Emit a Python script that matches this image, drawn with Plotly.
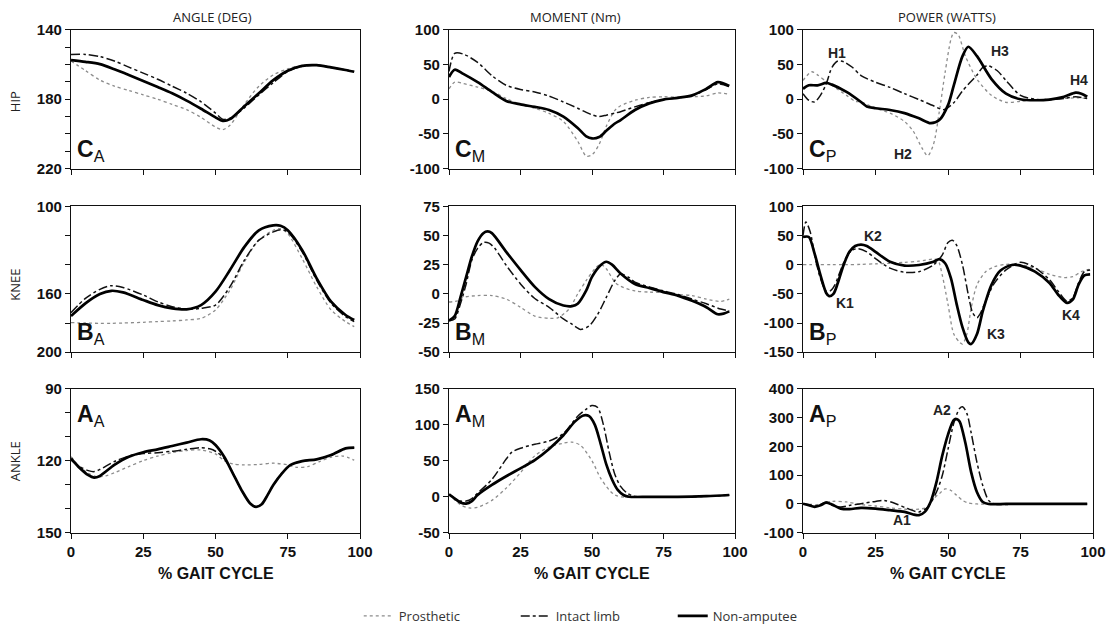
import plotly.graph_objects as go

# ---------------- DATA (% gait cycle on x) ----------------
# Hip angle (deg)
HA_X = [0, 5, 10, 15, 20, 25, 30, 35, 40, 45, 50, 52.5, 55, 60, 65, 70, 75, 80, 85, 90, 95, 98]
HA_PRO = [158, 163.5, 169, 172.5, 175, 177.5, 180, 183, 186, 190.5, 196, 197.5, 195, 183, 172.5, 166, 162.5, 160.5, 160.5, 161.7, 163, 164]
HA_INT = [154.3, 154.2, 155.5, 158, 161.5, 165, 168.5, 172.5, 176.5, 181.5, 188, 191.5, 191, 185, 177.5, 170.5, 164, 161, 160.4, 161.7, 163.2, 164.2]
HA_NON = [157.5, 158.5, 159.8, 162.7, 166, 169.5, 173, 176.6, 180.8, 185.5, 190.5, 192.5, 191.5, 184, 176.6, 169, 163.6, 160.8, 160.4, 161.7, 163.2, 164.2]

# Hip moment (Nm)
HM_X = [0, 2, 5, 10, 15, 20, 25, 30, 35, 40, 45, 48, 50, 52.5, 55, 58, 60, 65, 70, 75, 80, 85, 90, 94, 98]
HM_PRO = [15, 24.5, 22.5, 17.5, 11.5, 1, -7.5, -13, -20.5, -32, -60.5, -82, -80, -65, -39, -16, -9.5, -1.5, 2.5, 3.5, 3, 3.5, 5, 9, 7]
HM_INT = [40, 66, 65, 53, 34, 20, 14, 10.5, 4.5, -4, -13, -19, -22.5, -25, -23, -20, -18, -11, -5, -0.5, 2, 5, 14, 22, 18]
HM_NON = [32, 42.5, 36.5, 24.5, 10.5, -2.5, -7.5, -11, -15.5, -25, -41.5, -53.5, -56.5, -54.5, -45.5, -35, -30, -15.5, -6, -0.5, 2, 5.5, 15, 24.5, 19]

# Hip power (W)
HP_PRO_X = [0, 3, 5, 8, 10, 15, 18, 20, 25, 30, 35, 38, 41, 43, 45, 47, 49, 51, 52, 53.5, 56, 60, 65, 70, 75, 80, 85, 90, 95, 98]
HP_PRO = [27, 39.5, 35, 25.5, 20, 5.5, -3, -4, -13, -20, -32, -46, -70, -81.5, -65, -18, 38.5, 86, 96, 93, 62, 29, 5.5, -4.5, -3, -1, -0.5, 1, 2, 1]
HP_INT_X = [0, 2, 4, 6, 8, 10, 12, 14, 17, 20, 25, 30, 35, 40, 45, 48.5, 52, 55, 60, 62, 64, 67, 70, 75, 80, 85, 90, 94, 98]
HP_INT = [8, -1.5, -4, 5.5, 22, 46, 55, 54, 46, 34, 24.5, 17, 8, -0.5, -9.5, -15, -5, 12, 35, 46, 48, 41, 27, 5.5, 0, -0.5, 1, 3.5, 1]
HP_NON_X = [0, 2, 5, 8, 10, 15, 20, 22, 25, 30, 35, 40, 44, 47, 50, 52, 55, 57, 60, 65, 70, 75, 80, 85, 90, 94, 96, 98]
HP_NON = [15, 20, 20, 23.5, 21, 10.5, -4, -10.5, -13, -15.5, -20, -27.5, -34.5, -30, -8.5, 20, 62, 75.5, 62, 29, 8, 0, -1.5, -0.5, 3.5, 9.5, 8, 3.5]

# Knee angle (deg)
KA_X = [0, 5, 10, 14, 18, 25, 30, 35, 40, 45, 50, 55, 60, 65, 70, 72.5, 75, 80, 85, 90, 95, 98]
KA_PRO = [179.7, 180, 180.2, 180.2, 180, 179.5, 179, 178.6, 177.9, 176.8, 171, 157.4, 138, 123.2, 116.4, 115.3, 118.7, 135.8, 155.1, 171, 179, 182.5]
KA_INT = [172.9, 163.1, 156.9, 154.4, 155.6, 160.8, 165.4, 168.8, 170.6, 169.9, 167.7, 155.1, 136.9, 123.2, 117.5, 116, 117.5, 131.2, 150.6, 166.5, 175.6, 179]
KA_NON = [175.2, 166.5, 160.1, 157.9, 159, 164.2, 167.7, 169.9, 170.6, 167.7, 158.5, 143.7, 127.8, 116.4, 113, 113.3, 116.4, 130, 149.4, 165.4, 174.5, 177.9]

# Knee moment (Nm)
KM_PRO_X = [0, 3, 5, 10, 15, 20, 25, 30, 35, 38, 42, 45, 48, 51, 53, 55, 58, 60, 65, 70, 75, 80, 85, 90, 95, 98]
KM_PRO = [-7, -6, -3, -1.5, -1.5, -4.5, -11.5, -19, -21, -20.5, -13, 0, 11.5, 21.5, 25.5, 21.5, 10, 6.5, 2.5, 1.5, 1, -0.5, -1.5, -4.5, -6.5, -4.5]
KM_INT_X = [0, 2, 4, 6, 8, 10, 12, 14, 16, 20, 25, 30, 35, 40, 43, 46, 49, 52, 55, 58, 60, 63, 65, 70, 75, 80, 85, 90, 95, 98]
KM_INT = [-23, -21.5, -8.5, 8.5, 29, 39, 44, 43.5, 39, 24.5, 8.5, -4, -11.5, -21.5, -26, -30.5, -27.5, -17.5, -3, 11.5, 17, 14, 10, 6, 2.5, -0.5, -4.5, -8.5, -13, -14.5]
KM_NON_X = [0, 2, 4, 6, 8, 10, 12, 13.5, 15, 20, 25, 30, 35, 40, 43, 45, 48, 50, 53, 55, 57, 60, 65, 70, 75, 80, 85, 90, 94, 96, 98]
KM_NON = [-23, -19, -3, 14.5, 32, 45, 52, 53.5, 52, 36, 20.5, 6, -4.5, -10, -10.5, -8.5, 3, 14.5, 24.5, 27.5, 25, 17.5, 8.5, 5, 1.5, -1.5, -6, -11.5, -17.5, -17, -15]

# Knee power (W)
KP_PRO_X = [0, 5, 10, 15, 20, 25, 30, 35, 40, 45, 46.5, 48, 50, 52, 54, 55, 56.5, 58, 60, 63, 66, 70, 75, 80, 85, 90, 93, 96, 99]
KP_PRO = [0, 0, 0, 0, 0.5, 1.5, 2.5, 4, 6, 9.5, 8, -17.5, -68, -119, -133, -136, -119, -74, -34.5, -12, -3.5, 0.5, 0, -6, -16.5, -22, -20.5, -12, -8]
KP_INT_X = [0, 1, 2.5, 4, 6, 8, 9.5, 11, 13, 15, 17, 19, 22, 25, 30, 35, 40, 45, 48, 50, 51.5, 53, 55, 57, 58.5, 60, 61, 63, 66, 70, 75, 80, 85, 88, 91, 93, 95, 97, 99]
KP_INT = [50, 73, 56, 16.5, -23, -45.5, -44.5, -34.5, -9, 13.5, 25, 27.5, 22, 10.5, -6, -13, -12, -0.5, 16.5, 38, 42, 33, -0.5, -51.5, -82.5, -91, -85, -62.5, -31.5, -9, 4, -5, -26, -45.5, -62.5, -57, -31.5, -12, -9]
KP_NON_X = [0, 2, 4, 6, 8, 9, 10.5, 12, 14, 16, 18, 20, 22, 25, 30, 35, 40, 45, 47, 49, 51, 53, 55, 57, 58, 60, 62, 65, 68, 72, 75, 80, 85, 88, 91, 93, 95, 97, 99]
KP_NON = [47.5, 47.5, 19, -17.5, -48.5, -54, -50, -31.5, -0.5, 22, 32, 34.5, 32, 22, 5, -1.5, -0.5, 5, 9.5, 2.5, -23, -68, -107.5, -133, -136, -119, -79.5, -34.5, -10.5, -0.5, -1.5, -12, -31.5, -51.5, -65.5, -60, -34.5, -18.5, -16.5]

# Ankle angle (deg)
AA_PRO_X = [0, 3, 6, 9, 12, 15, 20, 25, 30, 35, 40, 45, 50, 53, 56, 60, 65, 70, 75, 78, 82, 86, 90, 94, 98]
AA_PRO = [118.3, 122.4, 125.2, 126.6, 126.3, 125, 122.4, 119.9, 118, 116.6, 115.7, 115.5, 117.1, 119.9, 121.3, 121.7, 121.5, 121, 121.7, 122.7, 122.4, 120.3, 118.5, 118, 119.7]
AA_INT_X = [0, 3, 6, 8, 10, 15, 20, 25, 30, 35, 40, 45, 48, 50, 53, 56, 59, 62, 64, 66, 68, 70, 73, 76, 80, 85, 90, 95, 98]
AA_INT = [119.7, 122.4, 124.1, 124.5, 123.6, 120.3, 118, 117, 116.6, 116, 115.2, 114.5, 115, 116, 119, 125.2, 132.2, 137.8, 139.2, 138.1, 134.3, 130.1, 125.2, 121.7, 120.1, 119.4, 117.6, 114.8, 114.5]
AA_NON_X = [0, 3, 6, 8, 10, 15, 20, 25, 30, 35, 40, 45, 48, 50, 53, 56, 59, 62, 64, 66, 68, 70, 73, 76, 80, 85, 90, 95, 98]
AA_NON = [119, 123, 126, 127, 126.3, 121.7, 118.3, 116.4, 115.2, 113.8, 112.4, 111, 111.5, 113.4, 118.3, 125.2, 132.2, 137.8, 139.2, 138.1, 134.3, 130.1, 125.2, 121.7, 120.1, 119.4, 117.6, 114.8, 114.5]

# Ankle moment (Nm)
AM_PRO_X = [0, 2, 4, 7, 10, 15, 20, 25, 30, 35, 40, 43, 46, 50, 53, 56, 58, 60, 70, 80, 90, 98]
AM_PRO = [3.3, -4, -11, -15.5, -14.5, -5, 12, 33.5, 57, 69, 74.5, 76, 71.5, 50, 26, 9.5, 2.5, 0, 0, 0, 1, 2.5]
AM_INT_X = [0, 2, 4, 6, 8, 10, 15, 20, 22, 25, 30, 35, 40, 45, 48, 50, 52, 54, 56, 58, 60, 62, 64, 66, 75, 85, 98]
AM_INT = [3.3, -2, -6, -6, -2.5, 5, 24, 52.5, 62, 67.5, 73, 77.5, 88, 112, 122, 127, 124, 100, 62, 31, 14.5, 6, 1.5, 0, 0, 0, 2]
AM_NON_X = [0, 2, 4, 6, 8, 10, 15, 20, 25, 30, 35, 40, 44, 47, 49, 51, 53, 55, 57, 59, 61, 63, 70, 80, 90, 98]
AM_NON = [3.3, -2.5, -8, -9.5, -6, 2.5, 16.5, 28.5, 39.5, 51, 66.5, 85.5, 104.5, 113, 112, 100, 74, 45, 24, 9.5, 2.5, 0, 0, 0, 1, 2.5]

# Ankle power (W)
AP_PRO_X = [0, 5, 10, 15, 20, 25, 30, 35, 40, 43, 45, 47, 49, 51, 53, 55, 57, 60, 70, 80, 90, 98]
AP_PRO = [1, -2, 9, 7, -2, -7, -13.5, -18, -18, -10.5, 18.5, 35.5, 52.5, 47, 30, 12.5, 3.5, 0, 0, 0, 0, 0]
AP_INT_X = [0, 2, 4, 6, 8, 10, 13, 16, 20, 25, 28, 32, 36, 40, 43, 46, 48, 50, 52, 54, 55, 56.5, 58, 60, 62, 64, 66, 75, 85, 98]
AP_INT = [1, -2, -7, -2, 7, -5, -10.5, -5, 1, 9, 12.5, 1, -16, -27.5, -10.5, 41, 98, 190, 281, 332, 338, 315, 247, 144, 64, 12.5, 0, 0, 0, 0]
AP_NON_X = [0, 2, 4, 6, 8, 10, 13, 16, 20, 25, 30, 35, 38, 40, 42, 44, 46, 48, 50, 52, 53, 54, 56, 58, 60, 62, 64, 70, 80, 90, 98]
AP_NON = [1, -4.5, -10, -4.5, 4.5, -2, -16, -18, -13.5, -16, -21.5, -27.5, -36.5, -39, -27.5, 7, 75, 167, 241, 292, 295, 287, 212, 110, 41, 7, 0, 0, 0, 0, 0]

SERIES_NAMES = ["Prosthetic", "Intact limb", "Non-amputee"]
COL_TITLES = ["ANGLE (DEG)", "MOMENT (Nm)", "POWER (WATTS)"]
ROW_TITLES = ["HIP", "KNEE", "ANKLE"]
X_TICKS = [0, 25, 50, 75, 100]

# y tick values: labelled (major) and all tick marks (minor), per panel
HA_TICKS = [140, 150, 160, 170, 180, 190, 200, 210, 220]; HA_LABELS = [140, 180, 220]
HM_TICKS = [-100, -50, 0, 50, 100]
HP_TICKS = [-100, -50, 0, 50, 100]
KA_TICKS = [100, 120, 140, 160, 180, 200]; KA_LABELS = [100, 160, 200]
KM_TICKS = [-50, -25, 0, 25, 50, 75]
KP_TICKS = [-150, -100, -50, 0, 50, 100]
AA_TICKS = [90, 100, 110, 120, 130, 140, 150]; AA_LABELS = [90, 120, 150]
AM_TICKS = [-50, 0, 50, 100, 150]
AP_TICKS = [-100, 0, 100, 200, 300, 400]

# peak labels in power panels: (text, x, y)
HIP_PEAKS = [("H1", 11.6, 66), ("H2", 34.6, -79), ("H3", 68, 69), ("H4", 95, 27)]
KNEE_PEAKS = [("K1", 14.5, -65), ("K2", 24.2, 50), ("K3", 66.4, -119), ("K4", 92.4, -86)]
ANKLE_PEAKS = [("A1", 34, -56), ("A2", 48, 326)]

# ---------------- FIGURE ----------------
W, H = 1117, 631
COL_PX = [(71, 360), (449, 735), (803, 1093)]
ROW_PX = [(30, 170), (208, 355), (392, 537)]
COL_TITLE_X = [212, 575, 947]
ROW_TITLE_Y = [103, 287, 465]

panels = [
    ([HA_X, HA_X, HA_X], [HA_PRO, HA_INT, HA_NON], HA_TICKS, HA_LABELS, [220, 140], "C", "A"),
    ([HM_X, HM_X, HM_X], [HM_PRO, HM_INT, HM_NON], HM_TICKS, HM_TICKS, [-100, 100], "C", "M"),
    ([HP_PRO_X, HP_INT_X, HP_NON_X], [HP_PRO, HP_INT, HP_NON], HP_TICKS, HP_TICKS, [-100, 100], "C", "P"),
    ([KA_X, KA_X, KA_X], [KA_PRO, KA_INT, KA_NON], KA_TICKS, KA_LABELS, [200, 100], "B", "A"),
    ([KM_PRO_X, KM_INT_X, KM_NON_X], [KM_PRO, KM_INT, KM_NON], KM_TICKS, KM_TICKS, [-50, 75], "B", "M"),
    ([KP_PRO_X, KP_INT_X, KP_NON_X], [KP_PRO, KP_INT, KP_NON], KP_TICKS, KP_TICKS, [-150, 100], "B", "P"),
    ([AA_PRO_X, AA_INT_X, AA_NON_X], [AA_PRO, AA_INT, AA_NON], AA_TICKS, AA_LABELS, [150, 90], "A", "A"),
    ([AM_PRO_X, AM_INT_X, AM_NON_X], [AM_PRO, AM_INT, AM_NON], AM_TICKS, AM_TICKS, [-50, 150], "A", "M"),
    ([AP_PRO_X, AP_INT_X, AP_NON_X], [AP_PRO, AP_INT, AP_NON], AP_TICKS, AP_TICKS, [-100, 400], "A", "P"),
]
peaks = {2: HIP_PEAKS, 5: KNEE_PEAKS, 8: ANKLE_PEAKS}

styles = [
    dict(color="#8c8c8c", width=1.3, dash="dot"),
    dict(color="#111111", width=1.5, dash="dashdot"),
    dict(color="#000000", width=2.7, dash="solid"),
]

TICK_FONT = dict(family="Liberation Sans, Arial, sans-serif", size=15, color="#111", weight="bold")
fig = go.Figure()
annotations = []

for i, (xs, ys, yt, yl, yr, let, sub) in enumerate(panels):
    r, c = divmod(i, 3)
    n = "" if i == 0 else str(i + 1)
    xa, ya = "x" + n, "y" + n
    for k in range(3):
        fig.add_trace(go.Scatter(
            x=xs[k], y=ys[k], mode="lines", name=SERIES_NAMES[k],
            line=dict(shape="spline", smoothing=0.8, **styles[k]),
            xaxis=xa, yaxis=ya, showlegend=(i == 0), legendrank=k,
            hoverinfo="skip"))
    x0, x1 = COL_PX[c]
    y0, y1 = ROW_PX[r]
    common = dict(showline=True, linecolor="#111", linewidth=1.3, mirror=True,
                  ticks="outside", ticklen=5, tickwidth=1.2, tickcolor="#111",
                  showgrid=False, zeroline=False, automargin=False, tickfont=TICK_FONT)
    fig.layout["xaxis" + n] = dict(
        domain=[x0 / W, x1 / W], range=[0, 100], anchor=ya,
        tickmode="array", tickvals=X_TICKS, ticktext=[str(v) for v in X_TICKS],
        showticklabels=(r == 2), **common)
    fig.layout["yaxis" + n] = dict(
        domain=[1 - y1 / H, 1 - y0 / H], range=yr, anchor=xa,
        tickmode="array", tickvals=yl, ticktext=[str(v) for v in yl],
        minor=dict(tickmode="array", tickvals=yt, ticks="outside", ticklen=5,
                   tickwidth=1.2, tickcolor="#111", showgrid=False),
        **common)
    if r < 2:
        ly, yanc = 0.015, "bottom"
    else:
        ly, yanc = 0.93, "top"
    annotations.append(dict(
        text="<b>%s</b><sub>%s</sub>" % (let, sub), xref=xa + " domain", yref=ya + " domain",
        x=0.015, y=ly, xanchor="left", yanchor=yanc, showarrow=False,
        font=dict(family="Liberation Sans, Arial, sans-serif", size=23, color="#111")))
    if i in peaks:
        for t, px, py in peaks[i]:
            annotations.append(dict(
                text="<b>%s</b>" % t, x=px, y=py, xref=xa, yref=ya, showarrow=False,
                xanchor="center", yanchor="middle",
                font=dict(family="Liberation Sans, Arial, sans-serif", size=14, color="#222")))

for c in range(3):
    cx = (COL_PX[c][0] + COL_PX[c][1]) / 2 / W
    annotations.append(dict(text=COL_TITLES[c], x=COL_TITLE_X[c] / W, y=1 - 17 / H, xref="paper", yref="paper",
                            xanchor="center", yanchor="middle", showarrow=False,
                            font=dict(family="Open Sans, sans-serif", size=13, color="#222")))
    annotations.append(dict(text="<b>% GAIT CYCLE</b>", x=cx, y=1 - 578 / H, xref="paper", yref="paper",
                            xanchor="center", yanchor="middle", showarrow=False,
                            font=dict(family="Liberation Sans, Arial, sans-serif", size=16, color="#111")))
for r in range(3):
    annotations.append(dict(text=ROW_TITLES[r], x=15 / W, y=1 - ROW_TITLE_Y[r] / H, xref="paper", yref="paper",
                            xanchor="center", yanchor="middle", textangle=-90, showarrow=False,
                            font=dict(family="Open Sans, sans-serif", size=13, color="#222")))

fig.update_layout(
    width=W, height=H, template="none",
    margin=dict(l=0, r=0, t=0, b=0),
    paper_bgcolor="white", plot_bgcolor="white",
    annotations=annotations,
    showlegend=True,
    legend=dict(orientation="h", x=0.532, xanchor="center", y=1 - 621 / H, yanchor="middle",
                font=dict(family="Open Sans, sans-serif", size=13, color="#333"),
                entrywidth=112, entrywidthmode="pixels", bgcolor="rgba(0,0,0,0)", traceorder="normal"),
)

fig.write_html("out.html")
